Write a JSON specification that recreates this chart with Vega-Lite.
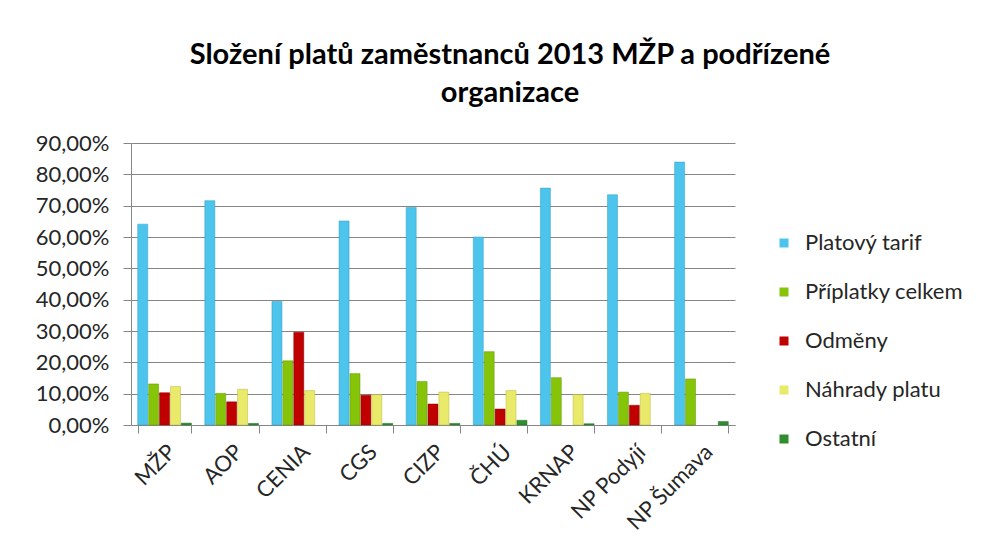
{
  "$schema": "https://vega.github.io/schema/vega-lite/v6.json",
  "width": 604,
  "height": 282,
  "autosize": {"type": "none"},
  "padding": {"left": 131, "top": 143, "right": 258, "bottom": 135},
  "background": "white",
  "config": {
    "locale": {"number": {"decimal": ",", "thousands": " ", "grouping": [3], "currency": ["", " Kč"]}},
    "view": {"stroke": null},
    "font": "Lato"
  },
  "title": {
    "text": ["Složení platů zaměstnanců 2013 MŽP a podřízené", "organizace"],
    "font": "Lato",
    "fontSize": 29,
    "fontWeight": "bold",
    "color": "#000000",
    "anchor": "middle",
    "lineHeight": 38,
    "dx": 77,
    "offset": 24
  },
  "data": {
    "values": [
      {"org": "MŽP", "typ": "Platový tarif", "value": 0.641},
      {"org": "MŽP", "typ": "Příplatky celkem", "value": 0.131},
      {"org": "MŽP", "typ": "Odměny", "value": 0.103},
      {"org": "MŽP", "typ": "Náhrady platu", "value": 0.123},
      {"org": "MŽP", "typ": "Ostatní", "value": 0.006},
      {"org": "AOP", "typ": "Platový tarif", "value": 0.716},
      {"org": "AOP", "typ": "Příplatky celkem", "value": 0.101},
      {"org": "AOP", "typ": "Odměny", "value": 0.074},
      {"org": "AOP", "typ": "Náhrady platu", "value": 0.114},
      {"org": "AOP", "typ": "Ostatní", "value": 0.005},
      {"org": "CENIA", "typ": "Platový tarif", "value": 0.394},
      {"org": "CENIA", "typ": "Příplatky celkem", "value": 0.205},
      {"org": "CENIA", "typ": "Odměny", "value": 0.296},
      {"org": "CENIA", "typ": "Náhrady platu", "value": 0.11},
      {"org": "CGS", "typ": "Platový tarif", "value": 0.651},
      {"org": "CGS", "typ": "Příplatky celkem", "value": 0.164},
      {"org": "CGS", "typ": "Odměny", "value": 0.095},
      {"org": "CGS", "typ": "Náhrady platu", "value": 0.097},
      {"org": "CGS", "typ": "Ostatní", "value": 0.005},
      {"org": "CIZP", "typ": "Platový tarif", "value": 0.694},
      {"org": "CIZP", "typ": "Příplatky celkem", "value": 0.139},
      {"org": "CIZP", "typ": "Odměny", "value": 0.067},
      {"org": "CIZP", "typ": "Náhrady platu", "value": 0.105},
      {"org": "CIZP", "typ": "Ostatní", "value": 0.005},
      {"org": "ČHÚ", "typ": "Platový tarif", "value": 0.6},
      {"org": "ČHÚ", "typ": "Příplatky celkem", "value": 0.234},
      {"org": "ČHÚ", "typ": "Odměny", "value": 0.051},
      {"org": "ČHÚ", "typ": "Náhrady platu", "value": 0.11},
      {"org": "ČHÚ", "typ": "Ostatní", "value": 0.015},
      {"org": "KRNAP", "typ": "Platový tarif", "value": 0.756},
      {"org": "KRNAP", "typ": "Příplatky celkem", "value": 0.151},
      {"org": "KRNAP", "typ": "Náhrady platu", "value": 0.097},
      {"org": "KRNAP", "typ": "Ostatní", "value": 0.004},
      {"org": "NP Podyjí", "typ": "Platový tarif", "value": 0.735},
      {"org": "NP Podyjí", "typ": "Příplatky celkem", "value": 0.105},
      {"org": "NP Podyjí", "typ": "Odměny", "value": 0.063},
      {"org": "NP Podyjí", "typ": "Náhrady platu", "value": 0.101},
      {"org": "NP Šumava", "typ": "Platový tarif", "value": 0.839},
      {"org": "NP Šumava", "typ": "Příplatky celkem", "value": 0.147},
      {"org": "NP Šumava", "typ": "Ostatní", "value": 0.011}
    ]
  },
  "mark": {"type": "bar", "strokeWidth": 0.8, "strokeOpacity": 0.6},
  "encoding": {
    "x": {
      "field": "org",
      "type": "nominal",
      "sort": null,
      "scale": {"paddingInner": 0.2, "paddingOuter": 0.1},
      "axis": {
        "title": null,
        "labelAngle": -45,
        "labelFontSize": 22,
        "labelColor": "#262626",
        "labelFont": "Lato",
        "tickBand": "extent",
        "tickColor": "#868686",
        "tickSize": 8,
        "domainColor": "#868686",
        "labelPadding": 8
      }
    },
    "xOffset": {
      "field": "typ",
      "type": "nominal",
      "sort": ["Platový tarif", "Příplatky celkem", "Odměny", "Náhrady platu", "Ostatní"],
      "scale": {"domain": ["Platový tarif", "Příplatky celkem", "Odměny", "Náhrady platu", "Ostatní"], "paddingInner": 0.08}
    },
    "y": {
      "field": "value",
      "type": "quantitative",
      "scale": {"domain": [0, 0.9], "nice": false},
      "axis": {
        "title": null,
        "format": ".2%",
        "values": [0, 0.1, 0.2, 0.3, 0.4, 0.5, 0.6, 0.7, 0.8, 0.9],
        "labelFontSize": 22,
        "labelColor": "#262626",
        "labelFont": "Lato",
        "gridColor": "#868686",
        "gridWidth": 1,
        "domainColor": "#868686",
        "tickColor": "#868686",
        "tickSize": 8,
        "labelPadding": 14
      }
    },
    "color": {
      "field": "typ",
      "type": "nominal",
      "scale": {
        "domain": ["Platový tarif", "Příplatky celkem", "Odměny", "Náhrady platu", "Ostatní"],
        "range": ["#4cc4ec", "#86c40a", "#c00000", "#e9e96a", "#2f8f2f"]
      },
      "legend": {
        "title": null,
        "orient": "none",
        "legendX": 642,
        "legendY": 89,
        "symbolType": "square",
        "symbolSize": 81,
        "symbolStrokeWidth": 0,
        "labelFontSize": 22,
        "labelFont": "Lato",
        "labelColor": "#262626",
        "rowPadding": 27,
        "labelOffset": 10
      }
    },
    "stroke": {
      "field": "typ",
      "type": "nominal",
      "scale": {
        "domain": ["Platový tarif", "Příplatky celkem", "Odměny", "Náhrady platu", "Ostatní"],
        "range": ["#2a9cc4", "#5e9400", "#8a0000", "#b8b83c", "#1e6a1e"]
      },
      "legend": null
    }
  }
}
